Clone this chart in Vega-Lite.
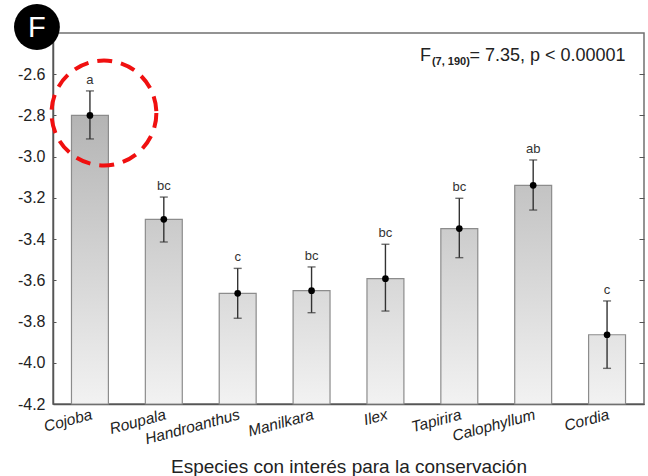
{
  "$schema": "https://vega.github.io/schema/vega-lite/v6.json",
  "width": 591,
  "height": 371,
  "autosize": "none",
  "padding": {"left": 53, "top": 33, "right": 4, "bottom": 72},
  "background": "white",
  "config": {
    "view": {"stroke": "#707070", "strokeWidth": 1.5},
    "font": "Liberation Sans"
  },
  "datasets": {
    "bars": [
      {"species": "Cojoba", "mean": -2.8, "lo": -2.914, "hi": -2.681, "letter": "a"},
      {"species": "Roupala", "mean": -3.304, "lo": -3.414, "hi": -3.196, "letter": "bc"},
      {"species": "Handroanthus", "mean": -3.663, "lo": -3.784, "hi": -3.542, "letter": "c"},
      {"species": "Manilkara", "mean": -3.65, "lo": -3.757, "hi": -3.535, "letter": "bc"},
      {"species": "Ilex", "mean": -3.592, "lo": -3.749, "hi": -3.425, "letter": "bc"},
      {"species": "Tapirira", "mean": -3.349, "lo": -3.49, "hi": -3.202, "letter": "bc"},
      {"species": "Calophyllum", "mean": -3.139, "lo": -3.259, "hi": -3.016, "letter": "ab"},
      {"species": "Cordia", "mean": -3.864, "lo": -4.027, "hi": -3.7, "letter": "c"}
    ],
    "highlight": [{"species": "Cojoba", "y": -2.788}],
    "panel": [{"species": "Cojoba", "y": -2.371, "label": "F"}],
    "stat": [{"species": "Ilex", "y": -2.536, "a": "F", "b": "(7, 190)", "c": "= 7.35, p < 0.00001"}]
  },
  "resolve": {"axis": {"y": "independent"}},
  "layer": [
    {
      "data": {"name": "bars"},
      "mark": {"type": "bar", "stroke": "#8c8c8c", "strokeWidth": 1.2},
      "encoding": {
        "x": {
          "field": "species", "type": "nominal", "sort": null,
          "scale": {"paddingInner": 0.5, "paddingOuter": 0.25},
          "axis": {
            "title": "Especies con interés para la conservación",
            "titleFontSize": 19, "titleFontWeight": "normal", "titleColor": "#222",
            "titlePadding": 10,
            "labelAngle": -15, "labelAlign": "right", "labelBaseline": "top",
            "labelFontStyle": "italic", "labelFontSize": 15.5, "labelColor": "#222",
            "labelPadding": 7,
            "tickSize": -4, "tickColor": "#555",
            "domainColor": "#555", "domainWidth": 1.5
          }
        },
        "y": {
          "field": "mean", "type": "quantitative",
          "scale": {"domain": [-4.2, -2.4], "zero": false, "nice": false},
          "axis": {
            "title": null, "values": [-4.2, -4.0, -3.8, -3.6, -3.4, -3.2, -3.0, -2.8, -2.6],
            "format": ".1f", "labelExpr": "replace(datum.label, '\u2212', '-')",
            "labelFontSize": 16, "labelColor": "#222",
            "tickSize": -3, "tickColor": "#555", "labelPadding": 11,
            "domainColor": "#555", "domainWidth": 1.5, "grid": false
          }
        },
        "y2": {"datum": -4.2},
        "color": {
          "condition": [
            {"test": "datum.species === 'Cojoba'", "value": {"gradient": "linear", "x1": 0, "y1": 0, "x2": 0, "y2": 1, "stops": [{"offset": 0, "color": "#b4b4b4"}, {"offset": 1, "color": "#f2f2f2"}]}},
            {"test": "datum.species === 'Roupala'", "value": {"gradient": "linear", "x1": 0, "y1": 0, "x2": 0, "y2": 1, "stops": [{"offset": 0, "color": "#cacaca"}, {"offset": 1, "color": "#f2f2f2"}]}},
            {"test": "datum.species === 'Handroanthus'", "value": {"gradient": "linear", "x1": 0, "y1": 0, "x2": 0, "y2": 1, "stops": [{"offset": 0, "color": "#dadada"}, {"offset": 1, "color": "#f2f2f2"}]}},
            {"test": "datum.species === 'Manilkara'", "value": {"gradient": "linear", "x1": 0, "y1": 0, "x2": 0, "y2": 1, "stops": [{"offset": 0, "color": "#d9d9d9"}, {"offset": 1, "color": "#f2f2f2"}]}},
            {"test": "datum.species === 'Ilex'", "value": {"gradient": "linear", "x1": 0, "y1": 0, "x2": 0, "y2": 1, "stops": [{"offset": 0, "color": "#d7d7d7"}, {"offset": 1, "color": "#f2f2f2"}]}},
            {"test": "datum.species === 'Tapirira'", "value": {"gradient": "linear", "x1": 0, "y1": 0, "x2": 0, "y2": 1, "stops": [{"offset": 0, "color": "#cccccc"}, {"offset": 1, "color": "#f2f2f2"}]}},
            {"test": "datum.species === 'Calophyllum'", "value": {"gradient": "linear", "x1": 0, "y1": 0, "x2": 0, "y2": 1, "stops": [{"offset": 0, "color": "#c3c3c3"}, {"offset": 1, "color": "#f2f2f2"}]}}
          ],
          "value": {"gradient": "linear", "x1": 0, "y1": 0, "x2": 0, "y2": 1, "stops": [{"offset": 0, "color": "#e3e3e3"}, {"offset": 1, "color": "#f2f2f2"}]}
        }
      }
    },
    {
      "data": {"name": "bars"},
      "mark": {"type": "rule", "color": "#333", "strokeWidth": 1.4},
      "encoding": {
        "x": {"field": "species", "type": "nominal", "sort": null},
        "y": {
          "field": "lo", "type": "quantitative",
          "axis": {"orient": "right", "labels": false, "title": null, "tickSize": -5, "tickColor": "#555", "domain": false, "grid": false,
                   "values": [-4.2, -4.0, -3.8, -3.6, -3.4, -3.2, -3.0, -2.8, -2.6]}
        },
        "y2": {"field": "hi"}
      }
    },
    {
      "data": {"name": "bars"},
      "mark": {"type": "tick", "color": "#333", "thickness": 1.4, "size": 8, "orient": "horizontal"},
      "encoding": {
        "x": {"field": "species", "type": "nominal", "sort": null},
        "y": {"field": "lo", "type": "quantitative", "axis": null}
      }
    },
    {
      "data": {"name": "bars"},
      "mark": {"type": "tick", "color": "#333", "thickness": 1.4, "size": 8, "orient": "horizontal"},
      "encoding": {
        "x": {"field": "species", "type": "nominal", "sort": null},
        "y": {"field": "hi", "type": "quantitative", "axis": null}
      }
    },
    {
      "data": {"name": "bars"},
      "mark": {"type": "point", "filled": true, "color": "#000", "size": 45, "opacity": 1},
      "encoding": {
        "x": {"field": "species", "type": "nominal", "sort": null},
        "y": {"field": "mean", "type": "quantitative", "axis": null}
      }
    },
    {
      "data": {"name": "bars"},
      "mark": {"type": "text", "fontSize": 13, "color": "#333", "baseline": "alphabetic", "dy": -7},
      "encoding": {
        "x": {"field": "species", "type": "nominal", "sort": null},
        "y": {"field": "hi", "type": "quantitative", "axis": null},
        "text": {"field": "letter"}
      }
    },
    {
      "data": {"name": "highlight"},
      "mark": {"type": "point", "shape": "circle", "size": 11000, "filled": false, "stroke": "#f01010", "strokeWidth": 4, "strokeDash": [15, 9], "opacity": 1, "xOffset": 14},
      "encoding": {
        "x": {"field": "species", "type": "nominal", "sort": null},
        "y": {"field": "y", "type": "quantitative", "axis": null}
      }
    },
    {
      "data": {"name": "panel"},
      "mark": {"type": "point", "shape": "circle", "size": 2100, "filled": true, "color": "#000", "opacity": 1, "xOffset": -53},
      "encoding": {
        "x": {"field": "species", "type": "nominal", "sort": null},
        "y": {"field": "y", "type": "quantitative", "axis": null}
      }
    },
    {
      "data": {"name": "panel"},
      "mark": {"type": "text", "fontSize": 29, "color": "#fff", "align": "center", "baseline": "middle", "dx": -53, "dy": 1},
      "encoding": {
        "x": {"field": "species", "type": "nominal", "sort": null},
        "y": {"field": "y", "type": "quantitative", "axis": null},
        "text": {"field": "label"}
      }
    },
    {
      "data": {"name": "stat"},
      "mark": {"type": "text", "fontSize": 18, "color": "#222", "align": "left", "baseline": "alphabetic", "dx": 34.6},
      "encoding": {
        "x": {"field": "species", "type": "nominal", "sort": null},
        "y": {"field": "y", "type": "quantitative", "axis": null},
        "text": {"field": "a"}
      }
    },
    {
      "data": {"name": "stat"},
      "mark": {"type": "text", "fontSize": 11, "fontWeight": "bold", "color": "#222", "align": "left", "baseline": "alphabetic", "dx": 46.5, "dy": 4},
      "encoding": {
        "x": {"field": "species", "type": "nominal", "sort": null},
        "y": {"field": "y", "type": "quantitative", "axis": null},
        "text": {"field": "b"}
      }
    },
    {
      "data": {"name": "stat"},
      "mark": {"type": "text", "fontSize": 18, "color": "#222", "align": "left", "baseline": "alphabetic", "dx": 84},
      "encoding": {
        "x": {"field": "species", "type": "nominal", "sort": null},
        "y": {"field": "y", "type": "quantitative", "axis": null},
        "text": {"field": "c"}
      }
    }
  ]
}
